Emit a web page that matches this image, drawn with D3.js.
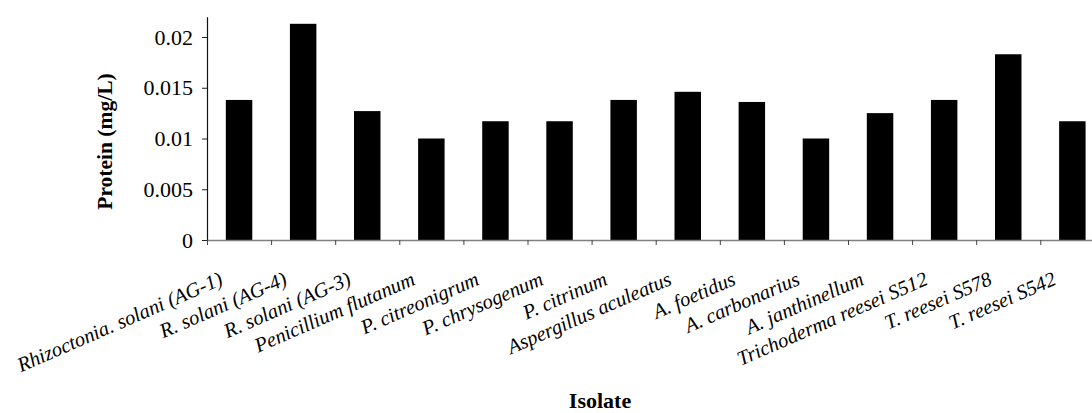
<!DOCTYPE html>
<html>
<head>
<meta charset="utf-8">
<script src="https://cdn.jsdelivr.net/npm/d3@7"></script>
<style>
  html, body { margin: 0; padding: 0; background: #fff; }
  svg { display: block; }
  text { font-family: "Liberation Serif", "Times New Roman", serif; fill: #000; }
</style>
</head>
<body>
<svg id="chart" width="1092" height="413"></svg>
<script>
const categories = [
  "Rhizoctonia. solani (AG-1)", "R. solani (AG-4)", "R. solani (AG-3)",
  "Penicillium flutanum", "P. citreonigrum", "P. chrysogenum", "P. citrinum",
  "Aspergillus aculeatus", "A. foetidus", "A. carbonarius", "A. janthinellum",
  "Trichoderma reesei S512", "T. reesei S578", "T. reesei S542"
];
const protein = [0.0138, 0.0213, 0.0127, 0.0100, 0.0117, 0.0117, 0.0138,
                 0.0146, 0.0136, 0.0100, 0.0125, 0.0138, 0.0183, 0.0117];
const yTickValues = [0, 0.005, 0.01, 0.015, 0.02];
const yTickLabels = ["0", "0.005", "0.01", "0.015", "0.02"];
const yTitle = "Protein (mg/L)";
const xTitle = "Isolate";

(function () {
const svg = d3.select("#chart");
const mLeft = 207, mRight = 1104.4, mTop = 16.7, mBottom = 240;

const x = d3.scaleBand().domain(categories).range([mLeft, mRight])
  .paddingInner(0.587).paddingOuter(0.2935);
const xEdges = d3.scaleLinear().domain([0, categories.length]).range([mLeft, mRight]);
const y = d3.scaleLinear().domain([0, 0.022]).range([mBottom, mTop]);

// bars
svg.append("g").selectAll("rect").data(protein).join("rect")
  .attr("x", (d, i) => x(categories[i]))
  .attr("y", d => y(d))
  .attr("width", x.bandwidth())
  .attr("height", d => y(0) - y(d))
  .attr("fill", "#000");

// y axis
const yAxis = svg.append("g").attr("transform", `translate(${mLeft},0)`)
  .call(d3.axisLeft(y).tickValues(yTickValues)
    .tickFormat((d, i) => yTickLabels[i]).tickSize(5).tickSizeOuter(0).tickPadding(9));
yAxis.select(".domain").attr("stroke", "#111").attr("stroke-width", 1.2);
yAxis.selectAll(".tick line").attr("stroke", "#222");
yAxis.selectAll("text").style("font-size", "22px").attr("font-family", "Liberation Serif");

// x axis (category boundaries)
const xAxis = svg.append("g").attr("transform", `translate(0,${mBottom})`)
  .call(d3.axisBottom(xEdges).tickValues(d3.range(categories.length + 1))
    .tickFormat("").tickSize(5).tickSizeOuter(0));
xAxis.select(".domain").attr("stroke", "#808080").attr("stroke-width", 1.6);
xAxis.selectAll(".tick line").attr("stroke", "#444");

// category labels
svg.append("g").selectAll("text").data(categories).join("text")
  .attr("transform", d => `translate(${x(d) + x.bandwidth() / 2 - 15},${284}) rotate(-23.5)`)
  .attr("text-anchor", "end")
  .style("font-size", "20.5px")
  .style("font-style", "italic")
  .text(d => d);

// axis titles
svg.append("text")
  .attr("transform", `translate(112,141.5) rotate(-90)`)
  .attr("text-anchor", "middle")
  .style("font-size", "21.5px").style("font-weight", "bold")
  .text(yTitle);

svg.append("text")
  .attr("x", 600).attr("y", 408)
  .attr("text-anchor", "middle")
  .style("font-size", "22px").style("font-weight", "bold")
  .text(xTitle);
})();
</script>
</body>
</html>
